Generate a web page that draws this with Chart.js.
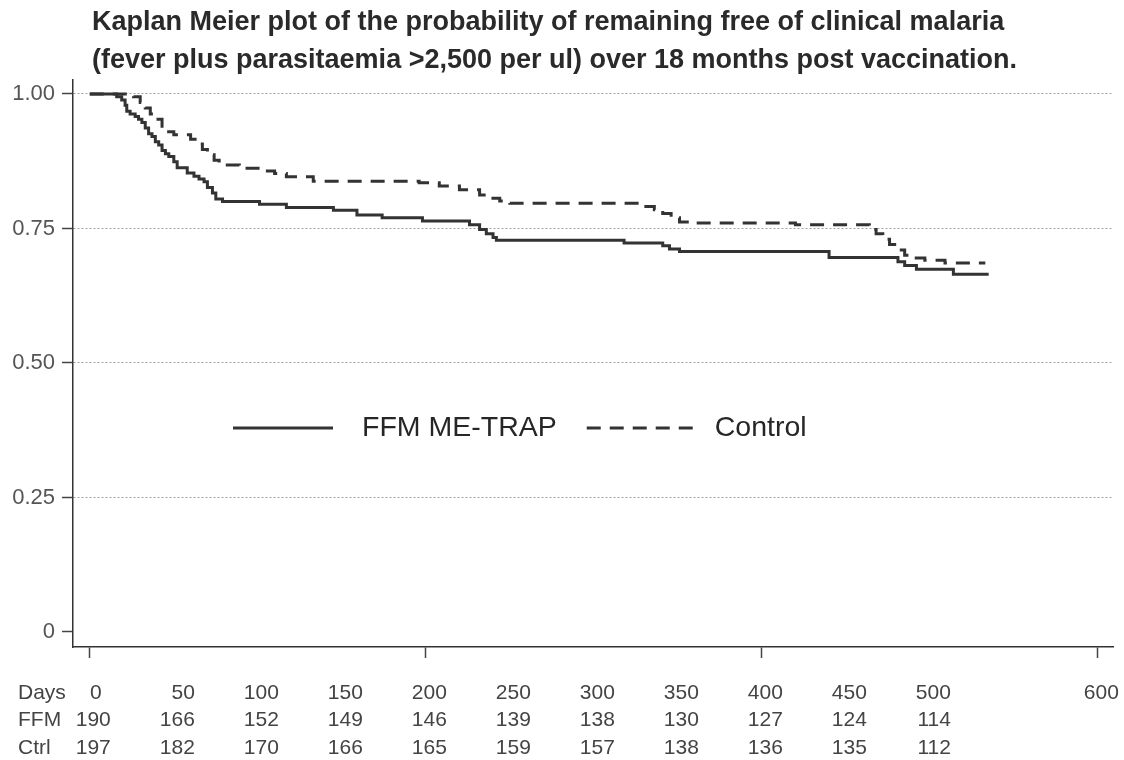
<!DOCTYPE html>
<html>
<head>
<meta charset="utf-8">
<script src="https://cdn.jsdelivr.net/npm/chart.js@4.4.1/dist/chart.umd.min.js"></script>
<style>
  html, body { margin: 0; padding: 0; background: #fff; }
</style>
</head>
<body>
<canvas id="kmChart" width="1124" height="760"></canvas>
<script>
// Title lines
const titleLines = [
    'Kaplan Meier plot of the probability of remaining free of clinical malaria',
    '(fever plus parasitaemia >2,500 per ul) over 18 months post vaccination.'
];

// Series names
const seriesNames = ['FFM ME-TRAP', 'Control'];

// Kaplan Meier steps (day of drop, survival after it)
const ffmDays = [0, 16, 19, 21, 22, 24, 27, 29, 31, 33, 35, 37, 39, 41, 43, 45, 47, 50, 52, 58, 62, 65, 68, 70, 73, 75, 79,
    101, 117, 145, 159, 174, 198, 226, 232, 236, 240, 242, 318, 341, 345, 351, 440, 481, 485, 492, 514, 535];
const ffmSurv = [1.000, 0.995, 0.989, 0.979, 0.968, 0.963, 0.958, 0.953, 0.947, 0.937, 0.926, 0.921, 0.911, 0.905, 0.895,
    0.889, 0.884, 0.874, 0.863, 0.853, 0.847, 0.842, 0.837, 0.826, 0.816, 0.805, 0.800,
    0.795, 0.789, 0.784, 0.775, 0.770, 0.764, 0.757, 0.748, 0.740, 0.733, 0.728, 0.723, 0.718, 0.712, 0.707,
    0.696, 0.688, 0.681, 0.674, 0.665, 0.665];

const ctrlDays = [0, 26, 30, 33, 36, 39, 43, 46, 50, 60, 64, 67, 70, 74, 77, 89, 103, 110, 117, 133,
    196, 208, 220, 232, 236, 244, 250, 330, 336, 341, 346, 351, 357, 420,
    464, 468, 472, 476, 480, 485, 489, 497, 509, 533];
const ctrlSurv = [1.000, 0.995, 0.984, 0.974, 0.963, 0.953, 0.937, 0.930, 0.924, 0.916, 0.907, 0.897, 0.887, 0.877, 0.868,
    0.862, 0.857, 0.852, 0.846, 0.838,
    0.835, 0.829, 0.822, 0.812, 0.806, 0.801, 0.797, 0.791, 0.785, 0.778, 0.770, 0.762, 0.760, 0.757,
    0.748, 0.740, 0.730, 0.720, 0.710, 0.700, 0.695, 0.691, 0.686, 0.686];

// Axis ticks
const yTicks = [0, 0.25, 0.5, 0.75, 1];
const yTickLabels = ['0', '0.25', '0.50', '0.75', '1.00'];
const xTicks = [0, 200, 400, 600];

// Number at risk table
const tableDays = [0, 50, 100, 150, 200, 250, 300, 350, 400, 450, 500, 600];
const riskDays = [0, 50, 100, 150, 200, 250, 300, 350, 400, 450, 500];
const ffmAtRisk = [190, 166, 152, 149, 146, 139, 138, 130, 127, 124, 114];
const ctrlAtRisk = [197, 182, 170, 166, 165, 159, 157, 138, 136, 135, 112];

const FONT = '"Liberation Sans", Arial, sans-serif';

function toPoints(days, surv) {
    return days.map((d, i) => ({ x: d, y: surv[i] }));
}

// Title drawn left aligned over the plot
const titlePlugin = {
    id: 'kmTitle',
    afterDraw(chart) {
        const ctx = chart.ctx;
        ctx.save();
        ctx.font = 'bold 27px ' + FONT;
        ctx.fillStyle = '#2a2a2a';
        ctx.textAlign = 'left';
        ctx.textBaseline = 'middle';
        titleLines.forEach((line, i) => {
            ctx.fillText(line, chart.chartArea.left + 19, 23 + i * 38);
        });
        ctx.restore();
    }
};

// Legend inside the plot area
const legendPlugin = {
    id: 'kmLegend',
    afterDraw(chart) {
        const ctx = chart.ctx;
        const area = chart.chartArea;
        const y = chart.scales.y.getPixelForValue(0.379);
        let x = area.left + 160;
        ctx.save();
        ctx.font = '28.5px ' + FONT;
        ctx.textBaseline = 'middle';
        chart.data.datasets.forEach((ds, i) => {
            const len = i === 0 ? 100 : 110;
            ctx.strokeStyle = ds.borderColor;
            ctx.lineWidth = ds.borderWidth;
            ctx.setLineDash(ds.borderDash || []);
            ctx.beginPath();
            ctx.moveTo(x, y);
            ctx.lineTo(x + len, y);
            ctx.stroke();
            ctx.setLineDash([]);
            x += len + (i === 0 ? 29 : 18);
            ctx.fillStyle = '#262626';
            ctx.fillText(ds.label, x, y);
            x += ctx.measureText(ds.label).width + 30;
        });
        ctx.restore();
    }
};

// Days / number at risk rows under the x axis
const riskTablePlugin = {
    id: 'riskTable',
    afterDraw(chart) {
        const ctx = chart.ctx;
        const xs = chart.scales.x;
        const base = chart.chartArea.bottom;
        ctx.save();
        ctx.font = '21px ' + FONT;
        ctx.fillStyle = '#444';
        ctx.textBaseline = 'middle';
        const rows = [
            { label: 'Days', y: base + 46, days: tableDays, values: tableDays },
            { label: 'FFM', y: base + 73, days: riskDays, values: ffmAtRisk },
            { label: 'Ctrl', y: base + 101, days: riskDays, values: ctrlAtRisk }
        ];
        rows.forEach(row => {
            ctx.textAlign = 'left';
            ctx.fillText(row.label, 18, row.y);
            ctx.textAlign = 'right';
            row.days.forEach((d, i) => {
                const shift = (row.label === 'Days' && d === 0) ? 12 : 21;
                ctx.fillText(String(row.values[i]), xs.getPixelForValue(d) + shift, row.y);
            });
        });
        ctx.restore();
    }
};

const ctx = document.getElementById('kmChart').getContext('2d');
const kmChart = new Chart(ctx, {
    type: 'line',
    data: {
        datasets: [{
            label: seriesNames[0],
            data: toPoints(ffmDays, ffmSurv),
            borderColor: '#333333',
            borderWidth: 3,
            stepped: 'before',
            pointRadius: 0,
            fill: false
        }, {
            label: seriesNames[1],
            data: toPoints(ctrlDays, ctrlSurv),
            borderColor: '#333333',
            borderWidth: 3,
            borderDash: [14, 9],
            stepped: 'before',
            pointRadius: 0,
            fill: false
        }]
    },
    options: {
        responsive: false,
        animation: false,
        layout: { padding: { left: 0, right: 11, top: 80, bottom: 0 } },
        plugins: {
            legend: { display: false },
            title: { display: false },
            tooltip: { enabled: false }
        },
        scales: {
            x: {
                type: 'linear',
                min: -10,
                max: 609,
                afterBuildTicks: s => { s.ticks = xTicks.map(v => ({ value: v })); },
                afterFit: s => { s.height = 113; },
                ticks: { display: false },
                grid: {
                    drawOnChartArea: false,
                    tickLength: 11,
                    tickColor: '#444',
                    tickWidth: 1.5
                },
                border: { color: '#333', width: 1.5 }
            },
            y: {
                min: -0.028,
                max: 1.026,
                afterBuildTicks: s => { s.ticks = yTicks.map(v => ({ value: v })); },
                afterFit: s => { s.width = 73; },
                ticks: {
                    padding: 7,
                    color: '#555',
                    font: { family: FONT, size: 22 },
                    callback: v => yTickLabels[yTicks.indexOf(v)]
                },
                grid: {
                    tickLength: 11,
                    tickColor: '#444',
                    tickWidth: 1.5,
                    color: c => (c.tick && c.tick.value === 0) ? 'rgba(0,0,0,0)' : '#a0a0a0',
                    lineWidth: 1
                },
                border: { color: '#333', width: 1.5, dash: [2, 2] }
            }
        }
    },
    plugins: [titlePlugin, legendPlugin, riskTablePlugin]
});
</script>
</body>
</html>
